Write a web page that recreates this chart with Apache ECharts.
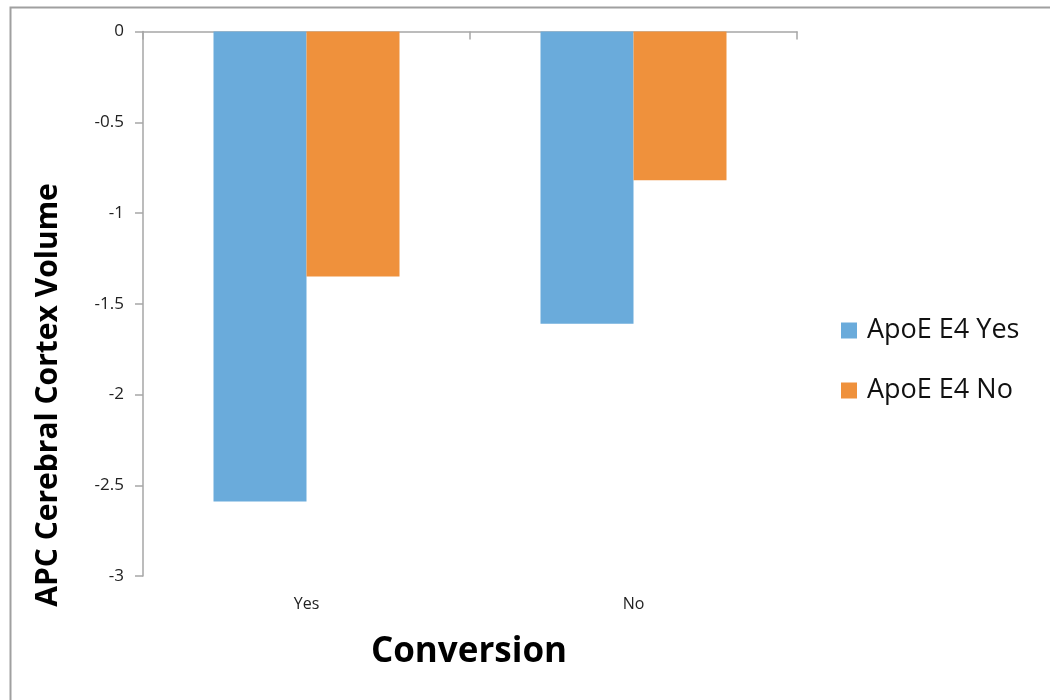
<!DOCTYPE html>
<html>
<head>
<meta charset="utf-8">
<script src="https://cdn.jsdelivr.net/npm/echarts@6/dist/echarts.min.js"></script>
<style>
  html, body { margin: 0; padding: 0; background: #fff; }
  #chart { width: 1050px; height: 700px; }
</style>
</head>
<body>
<div id="chart"></div>
<script>
// Conversion groups along the category axis
const categories = ['Yes', 'No'];
// Mean annual percent change per ApoE E4 status
const apoeYes = [-2.59, -1.61];
const apoeNo = [-1.35, -0.82];
const seriesNames = ['ApoE E4 Yes', 'ApoE E4 No'];
const yTicks = [0, -0.5, -1, -1.5, -2, -2.5, -3];

const chart = echarts.init(document.getElementById('chart'), null, { renderer: 'canvas' });

const axisGray = '#a6a6a6';
const textFont = '"Open Sans", "Liberation Sans", sans-serif';

chart.setOption({
  animation: false,
  backgroundColor: '#ffffff',
  color: ['#6aabdb', '#ef913c'],
  grid: { left: 143, top: 31.5, width: 654, height: 544.5 },
  legend: {
    orient: 'vertical',
    left: 836,
    top: 312,
    itemWidth: 16,
    itemHeight: 16,
    itemGap: 33,
    icon: 'rect',
    data: seriesNames,
    textStyle: { fontSize: 27, color: '#111', fontFamily: textFont, padding: [0, 0, 0, 5] }
  },
  xAxis: [
    {
      type: 'category',
      data: categories,
      position: 'bottom',
      axisLine: { show: false, onZero: false },
      axisTick: { show: false },
      axisLabel: { fontSize: 16, color: '#222', margin: 20, fontFamily: textFont },
      splitLine: { show: false }
    },
    {
      type: 'category',
      data: categories,
      position: 'top',
      axisLine: { show: true, onZero: false, lineStyle: { color: axisGray, width: 1.5 } },
      axisTick: { show: true, inside: true, length: 8, lineStyle: { color: axisGray, width: 1.5 } },
      axisLabel: { show: false },
      splitLine: { show: false }
    }
  ],
  yAxis: {
    type: 'value',
    min: -3,
    max: 0,
    interval: 0.5,
    axisLine: { show: true, lineStyle: { color: axisGray, width: 1.5 } },
    axisTick: { show: true, length: 8, lineStyle: { color: axisGray, width: 1.5 } },
    splitLine: { show: false },
    axisLabel: {
      fontSize: 17,
      color: '#222',
      margin: 19,
      fontFamily: textFont,
      formatter: function (v) {
        const t = yTicks.find(function (k) { return Math.abs(k - v) < 1e-9; });
        return t === undefined ? '' : String(t);
      }
    }
  },
  series: [
    {
      name: seriesNames[0],
      type: 'bar',
      data: apoeYes,
      xAxisIndex: 0,
      barWidth: 93,
      barGap: '0%'
    },
    {
      name: seriesNames[1],
      type: 'bar',
      data: apoeNo,
      xAxisIndex: 0,
      barWidth: 93,
      barGap: '0%'
    }
  ],
  graphic: [
    {
      type: 'rect',
      left: 8,
      top: 5,
      shape: { width: 1100, height: 800 },
      style: { fill: 'none', stroke: '#a0a0a0', lineWidth: 2 },
      silent: true
    },
    {
      type: 'text',
      x: 48,
      y: 395,
      rotation: Math.PI / 2,
      style: {
        text: 'APC Cerebral Cortex Volume',
        fontSize: 30,
        fontWeight: 'bold',
        fontFamily: textFont,
        fill: '#000',
        textAlign: 'center',
        textVerticalAlign: 'middle'
      }
    },
    {
      type: 'text',
      x: 469,
      y: 652,
      style: {
        text: 'Conversion',
        fontSize: 35,
        fontWeight: 'bold',
        fontFamily: textFont,
        fill: '#000',
        textAlign: 'center',
        textVerticalAlign: 'middle'
      }
    }
  ]
});
</script>
</body>
</html>
